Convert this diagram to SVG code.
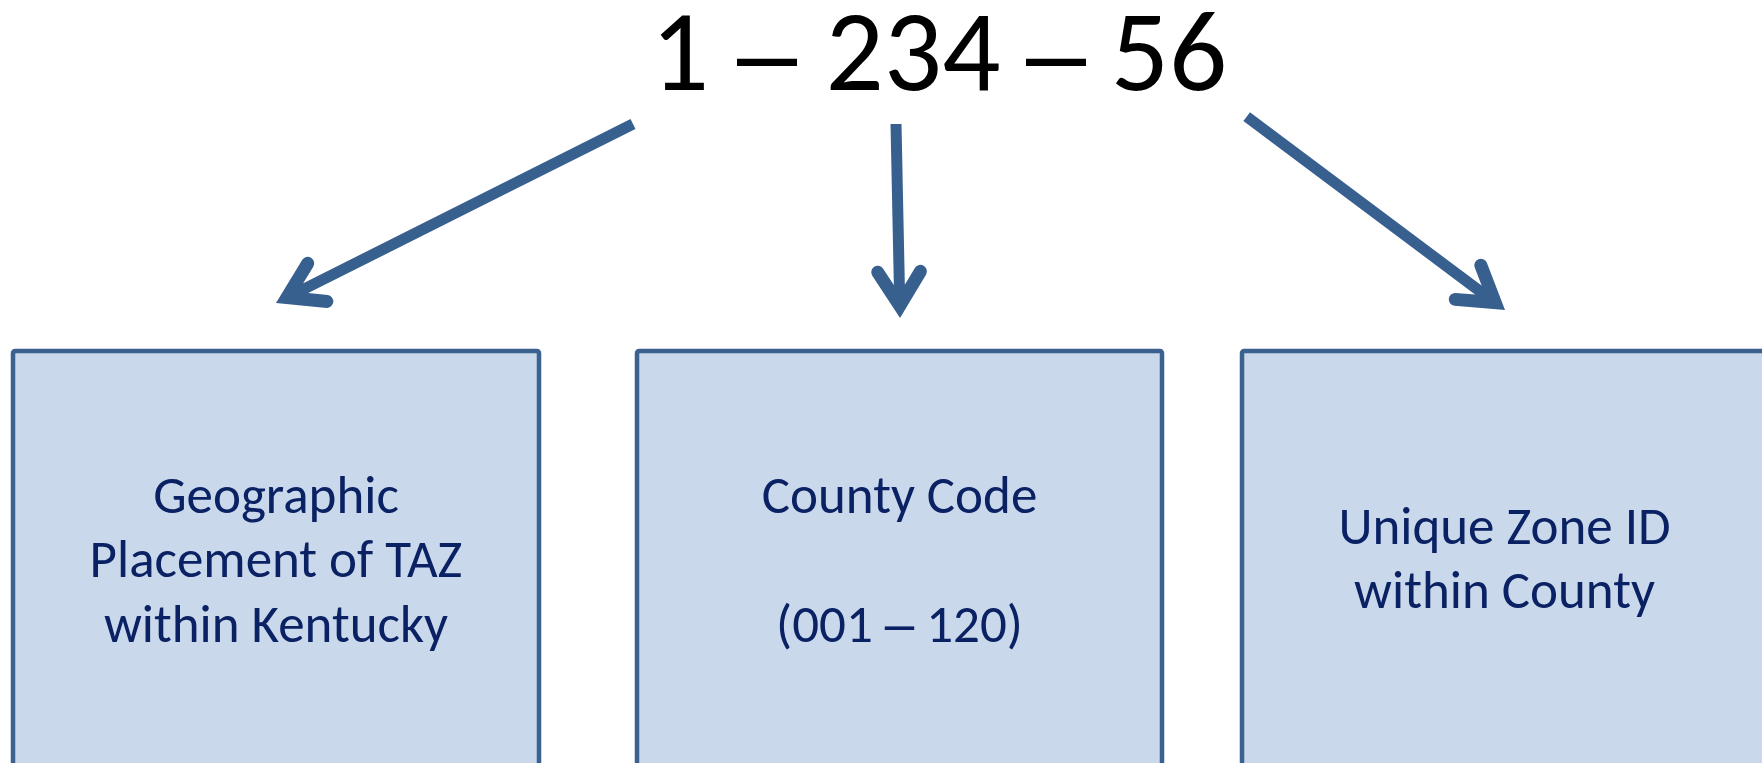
<svg xmlns="http://www.w3.org/2000/svg" width="1762" height="763" viewBox="0 0 1762 763">
<style>
.box{fill:#C9D8EA;stroke:#3B6190;stroke-width:4.5;stroke-linejoin:round}
.lbl{font-family:Calibri,Carlito,Lato,"Noto Sans",sans-serif;font-size:53px;fill:#0A2163;text-anchor:middle}
.title{font-family:Calibri,Carlito,Lato,"Noto Sans",sans-serif;font-size:115px;fill:#000;text-anchor:middle}
.arrow{fill:none;stroke:#38608F;stroke-width:11;stroke-linecap:butt;marker-end:url(#head)}
</style>
<defs>
<marker id="head" markerUnits="userSpaceOnUse" orient="auto" refX="0" refY="0" markerWidth="80" markerHeight="80" viewBox="-30 -40 80 80" overflow="visible">
<path d="M30,0 L-13,-27 A6.5,6.5 0 0 0 -19.9,-16 L-3.2,-5.5 L-3.2,5.5 L-19.9,16 A6.5,6.5 0 0 0 -13,27 Z" fill="#38608F"/>
</marker>
</defs>
<text class="title" y="90"><tspan x="680">1</tspan><tspan x="767" style="font-family:'Liberation Sans',Arial,sans-serif;font-size:108px"> – </tspan><tspan x="913">234</tspan><tspan x="1056" style="font-family:'Liberation Sans',Arial,sans-serif;font-size:108px"> – </tspan><tspan x="1169">56</tspan></text>
<g id="connectors">
<path class="arrow" d="M633,124 L302.8,289.6"/>
<path class="arrow" d="M896,124 L899.4,288"/>
<path class="arrow" d="M1246.7,116.7 L1481,292"/>
</g>
<g id="node-geographic">
<rect class="box" x="13" y="351" width="526" height="440" rx="2"/>
<text class="lbl" x="276" y="513">Geographic</text>
<text class="lbl" x="276" y="577">Placement of TAZ</text>
<text class="lbl" x="276" y="642">within Kentucky</text>
</g>
<g id="node-county">
<rect class="box" x="637" y="351" width="525" height="440" rx="2"/>
<text class="lbl" x="899.5" y="513">County Code</text>
<text class="lbl" x="899.5" y="642">(001 <tspan style="font-family:'Liberation Sans',Arial,sans-serif">–</tspan> 120)</text>
</g>
<g id="node-zone">
<rect class="box" x="1242" y="351" width="525" height="440" rx="2"/>
<text class="lbl" x="1504.5" y="544">Unique Zone ID</text>
<text class="lbl" x="1504.5" y="608">within County</text>
</g>
</svg>
